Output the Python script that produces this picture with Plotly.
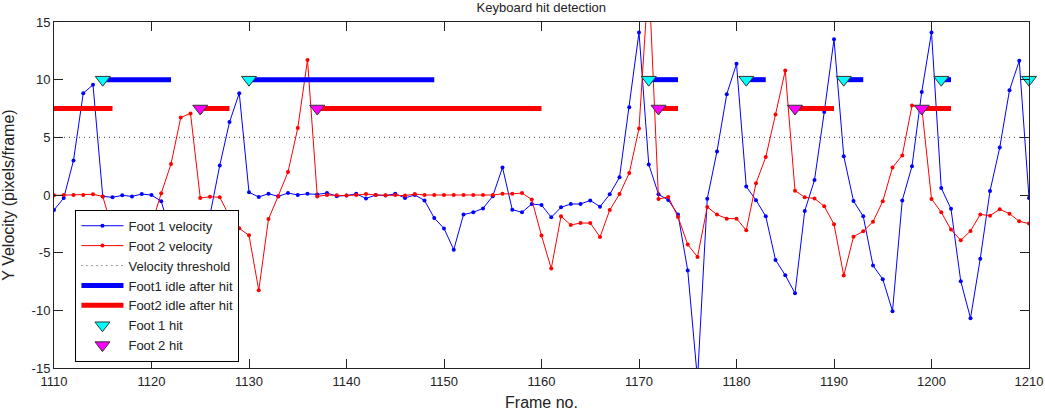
import plotly.graph_objects as go

frames = list(range(1110, 1211))

foot1_velocity = [
    -1.3, -0.26, 3.0, 8.83, 9.55, -0.12, -0.2, -0.03, -0.12, 0.08,
    0.0, -0.55, -3.44, -4.5, -4.0, -2.8, -1.73, 2.56, 6.32, 8.83,
    0.23, -0.17, 0.11, -0.12, 0.17, 0.0, 0.1, 0.05, 0.17, -0.1,
    -0.05, 0.1, -0.3, 0.0, -0.05, 0.1, -0.25, 0.0, -0.47, -2.0,
    -2.9, -4.74, -1.7, -1.5, -1.16, -0.1, 2.39, -1.27, -1.5, -0.78,
    -0.87, -1.94, -1.07, -0.78, -0.78, -0.47, -1.01, 0.06, 1.53, 7.6,
    14.1, 2.65, 0.06, -0.44, -1.68, -6.55, -16.0, -0.32, 3.78, 8.74,
    11.37, 0.73, -0.45, -1.85, -5.63, -6.95, -8.52, -1.38, 1.3, 7.19,
    13.5, 3.37, -0.52, -1.85, -6.12, -7.3, -10.07, -0.47, 2.5, 8.94,
    14.1, 0.6, -1.2, -7.48, -10.68, -5.52, 0.34, 4.12, 9.09, 11.63,
    -0.25,
]

foot2_velocity = [
    -0.03, 0.0, 0.0, 0.0, 0.06, -0.12, -3.0, -3.0, -3.9, -3.52,
    -2.57, 0.15, 2.68, 6.72, 7.07, -0.26, -0.15, -0.2, -1.85, -2.89,
    -3.5, -8.26, -2.08, -0.08, 1.99, 5.8, 11.7, -0.12, 0.0, -0.03,
    -0.05, 0.0, 0.08, 0.0, -0.02, 0.0, -0.05, 0.08, 0.0, 0.0,
    0.0, 0.0, 0.0, 0.0, 0.0, 0.0, 0.1, 0.1, 0.17, -0.4,
    -3.52, -6.38, -1.85, -2.6, -2.43, -2.43, -3.64, -1.3, 0.08, 1.9,
    5.77, 19.0, -0.35, -0.17, -1.9, -4.3, -5.37, -1.04, -1.7, -2.05,
    -2.05, -3.06, 1.02, 3.29, 6.98, 10.79, 0.37, -0.2, -0.3, -0.98,
    -2.54, -6.99, -3.61, -3.15, -2.31, -0.55, 2.39, 3.43, 7.76, 7.6,
    -0.34, -1.5, -3.0, -3.93, -3.12, -1.68, -1.79, -1.24, -1.62, -2.28,
    -2.48,
]

velocity_threshold = 5.0

foot1_idle_level = 10.0
foot1_idle_start = [1115, 1130, 1171, 1181, 1191, 1201]
foot1_idle_end = [1122, 1149, 1174, 1183, 1193, 1202]

foot2_idle_level = 7.5
foot2_idle_start = [1110, 1125, 1137, 1172, 1186, 1199]
foot2_idle_end = [1116, 1128, 1160, 1174, 1190, 1202]

foot1_hits = [1115, 1130, 1171, 1181, 1191, 1201, 1210]
foot2_hits = [1125, 1137, 1172, 1186, 1199]

x_ticks = list(range(1110, 1211, 10))
y_ticks = list(range(-15, 16, 5))
y_ticklabels = [str(v) for v in y_ticks]


def segments(starts, ends, level):
    xs, ys = [], []
    for s, e in zip(starts, ends):
        xs += [s, e, None]
        ys += [level, level, None]
    return xs, ys


FONT = "Liberation Sans, Arial, Helvetica, sans-serif"

fig = go.Figure()
fig.add_trace(go.Scatter(
    x=frames, y=foot1_velocity, mode="lines+markers", name="Foot 1 velocity",
    line=dict(color="#0000ff", width=1), marker=dict(color="#0000ff", size=4)))
fig.add_trace(go.Scatter(
    x=frames, y=foot2_velocity, mode="lines+markers", name="Foot 2 velocity",
    line=dict(color="#ff0000", width=1), marker=dict(color="#ff0000", size=4)))
fig.add_trace(go.Scatter(
    x=[frames[0], frames[-1]], y=[velocity_threshold, velocity_threshold],
    mode="lines", name="Velocity threshold",
    line=dict(color="#444444", width=1, dash="1px,4px")))
fx, fy = segments(foot1_idle_start, foot1_idle_end, foot1_idle_level)
fig.add_trace(go.Scatter(
    x=fx, y=fy, mode="lines", name="Foot1 idle after hit",
    line=dict(color="#0000ff", width=5)))
gx, gy = segments(foot2_idle_start, foot2_idle_end, foot2_idle_level)
fig.add_trace(go.Scatter(
    x=gx, y=gy, mode="lines", name="Foot2 idle after hit",
    line=dict(color="#ff0000", width=5)))
fig.add_trace(go.Scatter(
    x=foot1_hits, y=[foot1_idle_level] * len(foot1_hits), mode="markers",
    name="Foot 1 hit", cliponaxis=False,
    marker=dict(symbol="triangle-down", size=13, color="#00ffff",
                line=dict(color="#333333", width=1))))
fig.add_trace(go.Scatter(
    x=foot2_hits, y=[foot2_idle_level] * len(foot2_hits), mode="markers",
    name="Foot 2 hit", cliponaxis=False,
    marker=dict(symbol="triangle-down", size=13, color="#ff00ff",
                line=dict(color="#333333", width=1))))

axis_common = dict(
    showgrid=False, zeroline=False, showline=True, linecolor="#222222",
    linewidth=1, mirror="ticks", ticks="inside", ticklen=9,
    tickcolor="#222222", automargin=False,
    tickfont=dict(size=13, color="#222222", family=FONT),
)

fig.update_layout(
    width=1045, height=411,
    margin=dict(l=54, r=16, t=22, b=43),
    paper_bgcolor="white", plot_bgcolor="white",
    font=dict(family=FONT, size=13, color="#222222"),
    title=dict(text="Keyboard hit detection", x=0.518, xanchor="center",
               y=0.983, yanchor="middle", font=dict(size=13),
               automargin=False),
    xaxis=dict(range=[1110, 1210], tickvals=x_ticks, ticklabelstandoff=1,
               title=dict(text="Frame no."), **axis_common),
    yaxis=dict(range=[-15, 15], tickvals=y_ticks, ticktext=y_ticklabels,
               title=dict(text="Y Velocity (pixels/frame)"),
               **axis_common),
    legend=dict(x=0.022, y=0.018, xanchor="left", yanchor="bottom",
                bgcolor="white", bordercolor="black", borderwidth=1,
                font=dict(size=13), tracegroupgap=0, itemwidth=42),
    showlegend=True,
)

fig.write_html("out.html",
               config={"displayModeBar": False},
               post_script="document.body.style.margin='0px';")
